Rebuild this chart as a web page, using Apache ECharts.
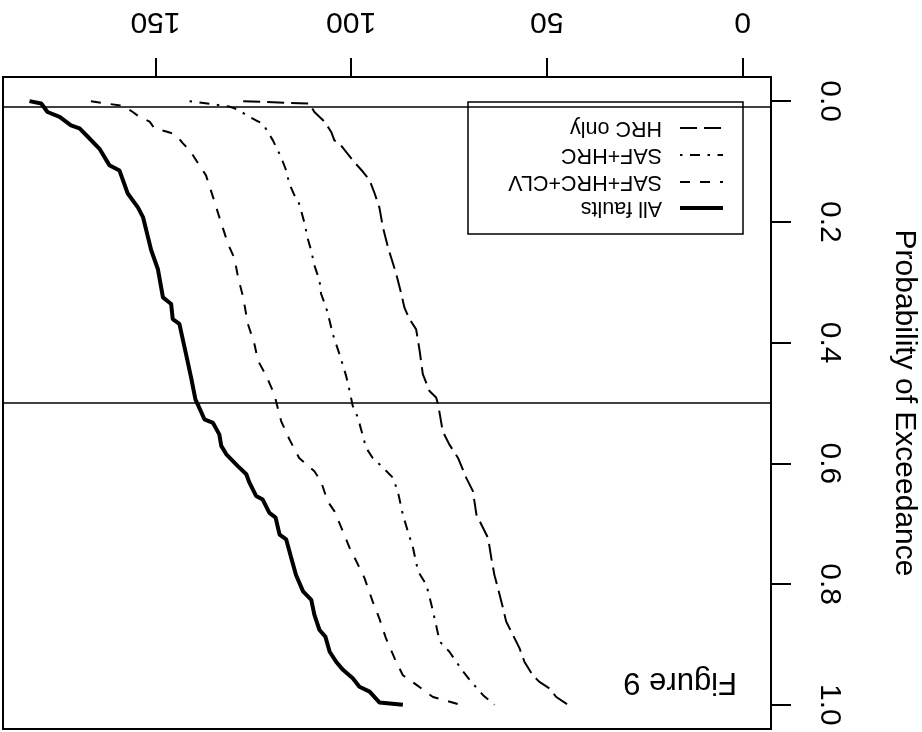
<!DOCTYPE html>
<html><head><meta charset="utf-8">
<script src="https://cdn.jsdelivr.net/npm/echarts@6/dist/echarts.min.js"></script>
<style>html,body{margin:0;padding:0;background:#fff}#c{width:922px;height:732px}</style>
</head><body><div id="c"></div>
<script>
// Probability of exceedance (p) and value for each curve
const allFaultsP = [0, 0.004, 0.018, 0.026, 0.04, 0.045, 0.059, 0.079, 0.106, 0.115, 0.153, 0.176, 0.192, 0.247, 0.278, 0.325, 0.336, 0.361, 0.369, 0.419, 0.458, 0.494, 0.508, 0.527, 0.533, 0.552, 0.571, 0.585, 0.605, 0.618, 0.632, 0.654, 0.66, 0.682, 0.69, 0.718, 0.726, 0.757, 0.785, 0.812, 0.826, 0.851, 0.876, 0.887, 0.912, 0.929, 0.942, 0.956, 0.97, 0.978, 0.996, 1.0];
const allFaultsV = [182.2, 179.2, 177.6, 174.5, 171.6, 169.4, 167.3, 164.3, 161.8, 159.2, 157.1, 154.5, 153.2, 151.1, 149.4, 148.1, 146.0, 145.6, 143.9, 142.2, 140.9, 139.8, 138.8, 137.5, 135.3, 133.7, 133.2, 131.9, 128.9, 126.8, 126.0, 124.3, 122.6, 120.9, 119.3, 118.3, 116.6, 115.3, 114.1, 112.3, 110.2, 109.4, 108.1, 106.6, 105.5, 103.8, 102.1, 99.6, 97.9, 95.3, 92.8, 86.8];

const safHrcClvP = [0, 0.008, 0.018, 0.026, 0.034, 0.045, 0.051, 0.056, 0.07, 0.081, 0.106, 0.123, 0.159, 0.192, 0.236, 0.261, 0.292, 0.325, 0.369, 0.403, 0.43, 0.455, 0.486, 0.497, 0.53, 0.56, 0.591, 0.613, 0.63, 0.663, 0.679, 0.713, 0.74, 0.762, 0.79, 0.829, 0.857, 0.89, 0.923, 0.951, 0.967, 0.987, 1.0];
const safHrcClvV = [166.5, 158.3, 155.8, 154.1, 151.5, 150.3, 146.8, 144.7, 143.0, 141.3, 138.8, 137.1, 135.3, 133.7, 131.5, 129.8, 128.9, 127.6, 126.4, 124.7, 123.8, 121.7, 119.6, 119.2, 117.9, 115.8, 113.3, 109.4, 107.7, 106.0, 104.3, 102.1, 100.4, 98.7, 96.6, 94.5, 92.8, 91.1, 88.9, 86.8, 83.3, 79.1, 72.0];

const safHrcP = [0, 0.009, 0.014, 0.023, 0.032, 0.037, 0.065, 0.093, 0.115, 0.137, 0.156, 0.164, 0.181, 0.203, 0.228, 0.248, 0.272, 0.297, 0.319, 0.342, 0.364, 0.386, 0.419, 0.455, 0.48, 0.505, 0.524, 0.574, 0.591, 0.607, 0.624, 0.649, 0.685, 0.713, 0.74, 0.779, 0.801, 0.834, 0.868, 0.895, 0.912, 0.945, 0.965, 0.984, 1.0];
const safHrcV = [141.3, 131.1, 128.9, 126.8, 124.3, 122.6, 120.0, 117.9, 116.6, 115.8, 114.5, 113.6, 112.8, 111.9, 111.1, 110.2, 109.4, 108.1, 107.7, 106.4, 105.5, 104.7, 103.0, 101.3, 100.4, 99.6, 98.3, 96.2, 94.5, 91.9, 89.3, 88.0, 86.8, 85.5, 84.2, 82.9, 80.8, 79.5, 78.3, 77.4, 74.9, 71.4, 68.9, 66.3, 63.4];

const hrcOnlyP = [0, 0.004, 0.018, 0.034, 0.051, 0.065, 0.07, 0.084, 0.098, 0.117, 0.131, 0.153, 0.176, 0.209, 0.242, 0.259, 0.286, 0.319, 0.342, 0.361, 0.378, 0.414, 0.452, 0.48, 0.491, 0.502, 0.547, 0.569, 0.591, 0.624, 0.646, 0.685, 0.707, 0.724, 0.757, 0.785, 0.807, 0.84, 0.862, 0.884, 0.906, 0.929, 0.951, 0.962, 0.973, 0.987, 1.0];
const hrcOnlyV = [127.6, 110.7, 109.4, 106.8, 105.1, 104.3, 103.0, 101.3, 99.6, 97.0, 95.3, 94.0, 92.8, 91.9, 90.6, 89.8, 88.5, 87.2, 86.4, 85.1, 83.4, 82.5, 81.7, 80.0, 78.3, 77.8, 76.6, 74.9, 72.7, 70.6, 68.9, 68.0, 66.3, 65.0, 64.2, 63.4, 62.5, 61.2, 60.4, 58.7, 57.0, 55.7, 53.6, 51.9, 49.3, 47.6, 44.6];

const seriesNames = ['All faults', 'SAF+HRC+CLV', 'SAF+HRC', 'HRC only'];
const valueTicks = [0, 50, 100, 150];
const probTicks = [0, 0.2, 0.4, 0.6, 0.8, 1.0];
const refLines = [0.01, 0.5];
const valueDataRange = [0, 181.7];
const probDataRange = [0, 1];

const FONT = 'Liberation Sans, Arial, Helvetica, sans-serif';
const pad = r => 0.04 * (r[1] - r[0]);
const styles = [
  {width: 4, type: 'solid'},
  {width: 2, type: [10, 10]},
  {width: 2, type: [2.5, 7.5, 10, 7.5]},
  {width: 2, type: [17, 7]}
];
function pairs(v, p) { return v.map((x, i) => [x, p[i]]); }
const dataSets = [pairs(allFaultsV, allFaultsP), pairs(safHrcClvV, safHrcClvP), pairs(safHrcV, safHrcP), pairs(hrcOnlyV, hrcOnlyP)];

const chart = echarts.init(document.getElementById('c'), null, {renderer: 'canvas'});

// Legend (upside-down, like the reference)
const legX = 468, legY = 102, legW = 275, legH = 132;
const legRowsY = [208, 182, 155, 128];
const legend = [{type: 'rect', shape: {x: legX, y: legY, width: legW, height: legH}, style: {fill: 'none', stroke: '#000', lineWidth: 1.5}, silent: true}];
seriesNames.forEach((n, i) => {
  legend.push({type: 'line', shape: {x1: 680, y1: legRowsY[i], x2: 723, y2: legRowsY[i]},
    style: {stroke: '#000', lineWidth: styles[i].width, lineDash: styles[i].type === 'solid' ? null : styles[i].type}, silent: true});
  legend.push({type: 'text', x: 662, y: legRowsY[i], rotation: Math.PI,
    style: {text: n, fill: '#000', font: '21.5px ' + FONT, textAlign: 'left', textVerticalAlign: 'middle'}, silent: true});
});
legend.push({type: 'text', x: 737, y: 682, rotation: Math.PI,
  style: {text: 'Figure 9', fill: '#000', font: '31px ' + FONT, textAlign: 'left', textVerticalAlign: 'middle'}, silent: true});

const option = {
  animation: false,
  backgroundColor: '#fff',
  grid: {left: 3, top: 77, width: 768, height: 652, show: true, borderColor: '#000', borderWidth: 2,
    backgroundColor: 'transparent', outerBoundsMode: 'none', containLabel: false},
  xAxis: {
    type: 'value', position: 'top', inverse: true,
    min: valueDataRange[0] - pad(valueDataRange), max: valueDataRange[1] + pad(valueDataRange),
    splitLine: {show: false}, axisLine: {show: false, onZero: false},
    axisTick: {show: true, length: 19, customValues: valueTicks, lineStyle: {color: '#000', width: 2}},
    axisLabel: {customValues: valueTicks, rotate: 180, margin: 41, fontSize: 30, color: '#000', fontFamily: FONT}
  },
  yAxis: {
    type: 'value', position: 'right', inverse: true,
    min: probDataRange[0] - pad(probDataRange), max: probDataRange[1] + pad(probDataRange),
    splitLine: {show: false}, axisLine: {show: false, onZero: false},
    axisTick: {show: true, length: 20, customValues: probTicks, lineStyle: {color: '#000', width: 2}},
    axisLabel: {customValues: probTicks, rotate: -90, margin: 43, fontSize: 30, color: '#000', fontFamily: FONT,
      formatter: v => Number(v).toFixed(1)},
    name: 'Probability of Exceedance', nameLocation: 'middle', nameRotate: -90, nameGap: 118,
    nameTextStyle: {fontSize: 30, color: '#000', fontFamily: FONT}
  },
  series: seriesNames.map((n, i) => ({
    name: n, type: 'line', data: dataSets[i], showSymbol: false, symbol: 'none', silent: true,
    lineStyle: {color: '#000', width: styles[i].width, type: styles[i].type},
    markLine: i === 0 ? {silent: true, symbol: ['none', 'none'], label: {show: false},
      lineStyle: {color: '#000', width: 1.5, type: 'solid'}, data: refLines.map(v => ({yAxis: v}))} : undefined
  })),
  graphic: legend
};
chart.setOption(option);
</script>
</body></html>
